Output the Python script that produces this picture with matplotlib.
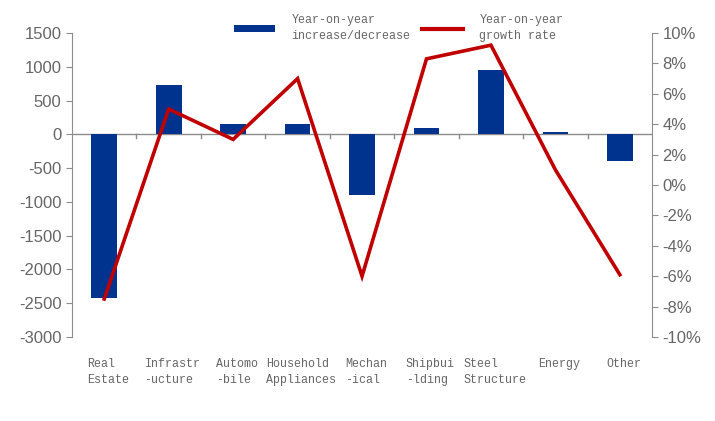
import numpy as np
import matplotlib
matplotlib.use("Agg")
import matplotlib.pyplot as plt
import matplotlib.transforms as mtransforms
from matplotlib.ticker import FuncFormatter
from matplotlib.lines import Line2D
from matplotlib.patches import Patch

plt.rcParams["axes.unicode_minus"] = False

# ---------------------------------------------------------------------------
# Data
# ---------------------------------------------------------------------------
categories = ["Real\nEstate", "Infrastr\n-ucture", "Automo\n-bile",
              "Household\nAppliances", "Mechan\n-ical", "Shipbui\n-lding",
              "Steel\nStructure", "Energy", "Other"]
yoy_change = [-2420, 730, 160, 160, -900, 90, 950, 30, -400]
yoy_growth = [-7.5, 5.0, 3.0, 7.0, -6.0, 8.3, 9.2, 1.0, -5.9]

left_ticks = list(range(-3000, 1501, 500))
right_ticks = list(range(-10, 11, 2))

# ---------------------------------------------------------------------------
# Styles
# ---------------------------------------------------------------------------
COL_BAR = "#00338D"
COL_LINE = "#C00000"
COL_AX = "#8C8C8C"
COL_TXT = "#666666"
SERIF_MONO = ["Liberation Mono", "DejaVu Sans Mono"]

fig = plt.figure(figsize=(7.15, 4.21), dpi=100)
ax = fig.add_axes([0.1007, 0.1995, 0.8113, 0.7221])
ax2 = ax.twinx()

x = np.arange(len(categories))
ax.bar(x, yoy_change, width=0.4, color=COL_BAR, zorder=2)
ax2.plot(x, yoy_growth, color=COL_LINE, lw=2.6, zorder=3,
         solid_joinstyle="miter")

# left axis
ax.set_xlim(-0.5, len(categories) - 0.5)
ax.set_ylim(-3000, 1500)
ax.set_yticks(left_ticks)
ax.tick_params(axis="y", direction="out", length=4, color=COL_AX,
               labelcolor=COL_TXT, labelsize=12)
for lab in ax.get_yticklabels():
    lab.set_family("Liberation Sans")

# right axis
ax2.set_ylim(-10, 10)
ax2.set_yticks(right_ticks)
ax2.yaxis.set_major_formatter(FuncFormatter(lambda v, p: f"{int(v)}%"))
ax2.tick_params(axis="y", direction="out", length=4, color=COL_AX,
                labelcolor=COL_TXT, labelsize=12)
for lab in ax2.get_yticklabels():
    lab.set_family("Liberation Sans")

for a in (ax, ax2):
    a.spines["top"].set_visible(False)
    a.spines["bottom"].set_visible(False)
    a.spines["left"].set_color(COL_AX)
    a.spines["right"].set_color(COL_AX)
ax.spines["right"].set_visible(False)
ax2.spines["left"].set_visible(False)

# zero line with category separator ticks
ax.axhline(0, color=COL_AX, lw=1.0, zorder=1)
ax.set_xticks([])
for b in np.arange(0.5, len(categories) - 0.5, 1.0):
    ax.plot([b, b], [0, -60], color=COL_AX, lw=1.0, zorder=1)

# category labels below the plot
trans = mtransforms.blended_transform_factory(ax.transData, ax.transAxes)
for xi, lab in zip(x, categories):
    ax.text(xi + 0.06, -0.07, lab, transform=trans, ha="center", va="top",
            multialignment="left", fontsize=8.4, color=COL_TXT,
            family=SERIF_MONO, linespacing=1.45)

# legend
handles = [Patch(facecolor=COL_BAR, edgecolor="none",
                 label="Year-on-year\nincrease/decrease"),
           Line2D([0], [0], color=COL_LINE, lw=3,
                  label="Year-on-year\ngrowth rate")]
leg = fig.legend(handles=handles, loc="center", ncol=2,
                 bbox_to_anchor=(0.558, 0.933), frameon=False,
                 prop={"family": SERIF_MONO, "size": 8.4},
                 handlelength=3.5, handleheight=0.6, columnspacing=1.0,
                 handletextpad=1.4)
for t in leg.get_texts():
    t.set_color(COL_TXT)
    t.set_linespacing(1.45)

fig.savefig("out.png", dpi=100, facecolor="white")
